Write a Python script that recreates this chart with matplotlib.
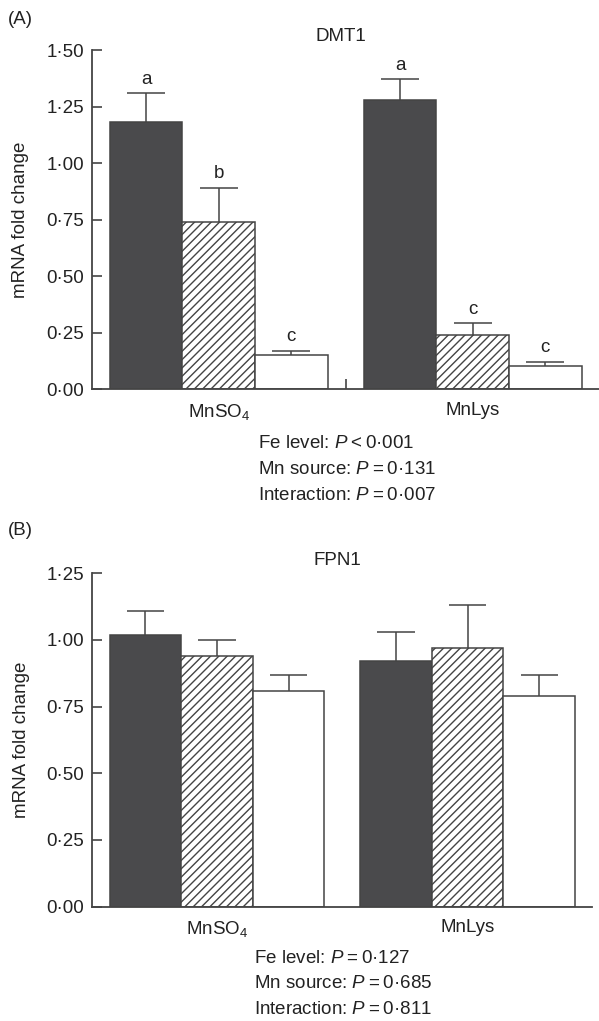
import numpy as np
import matplotlib
matplotlib.use("Agg")
import matplotlib.pyplot as plt

plt.rcParams['font.family'] = ['Liberation Sans', 'DejaVu Sans']
plt.rcParams['mathtext.fontset'] = 'custom'
plt.rcParams['mathtext.rm'] = 'Liberation Sans'
plt.rcParams['mathtext.it'] = 'Liberation Sans:italic'
plt.rcParams['hatch.linewidth'] = 1.0

# data
groups = ["MnSO$_4$", "MnLys"]
fe_levels = ["low", "mid", "high"]

dmt1_mean = [1.18, 0.74, 0.15, 1.28, 0.24, 0.10]
dmt1_se = [0.13, 0.15, 0.02, 0.09, 0.05, 0.02]
dmt1_letters = ["a", "b", "c", "a", "c", "c"]
dmt1_stats = ["Fe level: $P$\u2009<\u20090\u00b7001",
              "Mn source: $P$\u2009=\u20090\u00b7131",
              "Interaction: $P$\u2009=\u20090\u00b7007"]

fpn1_mean = [1.02, 0.94, 0.81, 0.92, 0.97, 0.79]
fpn1_se = [0.09, 0.06, 0.06, 0.11, 0.16, 0.08]
fpn1_stats = ["Fe level: $P$\u2009=\u20090\u00b7127",
              "Mn source: $P$\u2009=\u20090\u00b7685",
              "Interaction: $P$\u2009=\u20090\u00b7811"]

DARK = "#4a4a4c"
EDGE = "#444444"
FS = 13.5

fig = plt.figure(figsize=(5.99, 10.21), dpi=100)


def fmt(v):
    return f"{v:.2f}".replace(".", "\u00b7")


def panel(rect, means, ses, ymax, yticks, title, divider, letters=None):
    ax = fig.add_axes(rect)
    n = len(fe_levels)
    xs = [g * (n + 0.5) + j for g in range(len(groups)) for j in range(n)]
    styles = [dict(color=DARK, edgecolor=EDGE),
              dict(color="white", edgecolor=EDGE, hatch="////"),
              dict(color="white", edgecolor=EDGE)]
    for i, (x, m, s) in enumerate(zip(xs, means, ses)):
        st = styles[i % n]
        ax.bar(x, m, width=1.0, facecolor=st["color"], edgecolor=st["edgecolor"],
               hatch=st.get("hatch"), linewidth=1.1, zorder=2)
        ax.vlines(x, m, m + s, color=EDGE, linewidth=1.1, zorder=1)
        ax.hlines(m + s, x - 0.26, x + 0.26, color=EDGE, linewidth=1.1, zorder=1)
        if letters:
            ax.annotate(letters[i], (x, m + s), xytext=(0, 10), textcoords="offset points",
                        ha="center", va="center", fontsize=FS, color="#222222")

    ax.set_xlim(-0.75, xs[-1] + 0.74)
    ax.set_ylim(0, ymax)
    ax.set_yticks(yticks)
    ax.set_yticklabels([fmt(v) for v in yticks])
    centers = [np.mean(xs[g * n:(g + 1) * n]) for g in range(len(groups))]
    ax.set_xticks(centers)
    ax.set_xticklabels(groups)
    ax.set_xticks([divider], minor=True)
    ax.tick_params(axis="x", which="major", length=0, pad=9, labelsize=FS, colors="#222222")
    ax.tick_params(axis="x", which="minor", direction="in", length=7.5, width=1.2, color=EDGE)
    ax.tick_params(axis="y", direction="in", length=7.5, width=1.2, pad=5.5,
                   labelsize=FS, color=EDGE, labelcolor="#222222")
    for side in ("top", "right"):
        ax.spines[side].set_visible(False)
    for side in ("left", "bottom"):
        ax.spines[side].set_linewidth(1.3)
        ax.spines[side].set_color(EDGE)
    ax.set_ylabel("mRNA fold change", fontsize=FS, color="#222222", va="center")
    ax.yaxis.set_label_coords(-0.14, 0.5)
    ax.text(0.491, 1.039, title, transform=ax.transAxes, ha="center", va="center",
            fontsize=FS, color="#222222")
    return ax


ax1 = panel([0.1531, 0.619, 0.8469, 0.332], dmt1_mean, dmt1_se, 1.5,
            [0, 0.25, 0.5, 0.75, 1.0, 1.25, 1.5], "DMT1", 2.75, dmt1_letters)
ax2 = panel([0.1531, 0.1121, 0.8357, 0.3265], fpn1_mean, fpn1_se, 1.25,
            [0, 0.25, 0.5, 0.75, 1.0, 1.25], "FPN1", 1.97)

fig.text(7.6 / 599, 1 - 20 / 1021, "(A)", ha="left", va="center", fontsize=FS, color="#222222")
fig.text(7.6 / 599, 1 - 530.7 / 1021, "(B)", ha="left", va="center", fontsize=FS, color="#222222")

for i, line in enumerate(dmt1_stats):
    fig.text(258.3 / 599, 1 - (443 + 26 * i) / 1021, line, ha="left", va="center",
             fontsize=FS, color="#222222")
for i, line in enumerate(fpn1_stats):
    fig.text(254.5 / 599, 1 - (958.4 + 25.5 * i) / 1021, line, ha="left", va="center",
             fontsize=FS, color="#222222")

fig.savefig("out.png", dpi=100)
